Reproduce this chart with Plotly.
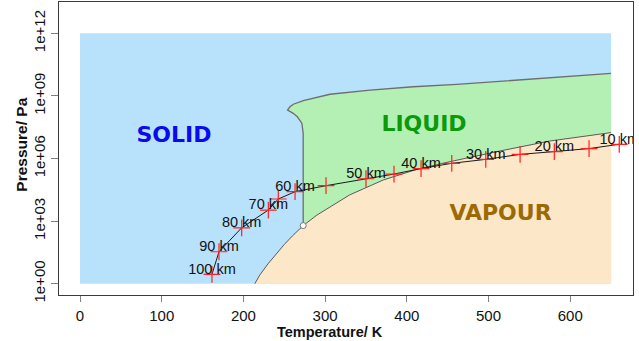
import plotly.graph_objects as go

# ---------------- data ----------------
# Solid region extent
solid_T = [0, 650, 650, 0, 0]
solid_P = [1, 1, 1e12, 1e12, 1]

# Sublimation curve (solid / vapour)
sub_T = [214, 220, 230, 240, 250, 260, 273.16]
sub_P = [1.0, 2.6, 8.9, 27, 76, 196, 611]

# Vaporisation curve (liquid / vapour)
vap_T = [273.16, 290, 330, 371, 412, 453, 514, 575, 650]
vap_P = [611, 1.95e3, 1.8e4, 9.3e4, 3.0e5, 7.1e5, 2.3e6, 6.9e6, 1.75e7]

# Melting curve (solid / liquid), incl. the high-pressure branch
melt_T = [273.16, 273.16, 271.5, 266, 260.5, 254, 257, 261.1, 273.3, 306, 355, 408, 461, 540.6, 650]
melt_P = [611, 1.6e7, 4.9e7, 1.0e8, 1.5e8, 2.1e8, 3.0e8, 4.0e8, 5.9e8, 1.2e9, 1.9e9,
          2.75e9, 3.55e9, 5.75e9, 1.2e10]

# Triple point
triple_T = [273.16]
triple_P = [611]

# Atmospheric profile (altitude, temperature, pressure)
prof_km = [100, 90, 80, 70, 65, 60, 55, 50, 45, 40, 35, 30, 25, 20, 15, 10]
prof_T = [161.5, 170.1, 197.9, 230.5, 242.7, 263.2, 301.1, 350, 384.3, 417.4, 455,
          496.6, 538.6, 580.5, 623, 660]
prof_P = [2.8, 34, 480, 3400, 11500, 25700, 50000, 1.07e5, 1.8e5, 3.3e5, 5.9e5,
          9.1e5, 1.58e6, 2.15e6, 3.0e6, 4.8e6]

label_km = [100, 90, 80, 70, 60, 50, 40, 30, 20, 10]
label_text = ["100 km", "90 km", "80 km", "70 km", "60 km", "50 km", "40 km",
              "30 km", "20 km", "10 km"]

# Phase names
phase_text = ["SOLID", "LIQUID", "VAPOUR"]
phase_T = [115, 421, 514.7]
phase_P = [1.1e7, 4.0e7, 2.15e3]
phase_color = ["#0a0af0", "#0a9a0a", "#9b6a05"]

# axis ticks
x_ticks = [0, 100, 200, 300, 400, 500, 600]
y_ticks = [1, 1e3, 1e6, 1e9, 1e12]
y_ticktext = ["1e+00", "1e+03", "1e+06", "1e+09", "1e+12"]

# ---------------- styling ----------------
C_SOLID = "#b8e2fb"
C_LIQUID = "#b4efb4"
C_VAPOUR = "#fde7c9"
C_EDGE = "#5a5a5a"
FONT = "Liberation Sans, Arial, sans-serif"
LABEL_LIFT = 10 ** 0.2

fig = go.Figure()

fig.add_trace(go.Scatter(x=solid_T, y=solid_P, mode="lines", fill="toself",
                         fillcolor=C_SOLID, line=dict(width=0), hoverinfo="skip"))

# liquid polygon: melting curve then back along vaporisation curve
liq_T = melt_T + [650] + vap_T[::-1]
liq_P = melt_P + [vap_P[-1]] + vap_P[::-1]
fig.add_trace(go.Scatter(x=liq_T, y=liq_P, mode="lines", fill="toself",
                         fillcolor=C_LIQUID, line=dict(width=0), hoverinfo="skip"))

# vapour polygon
vapour_T = sub_T + vap_T[1:] + [650, sub_T[0]]
vapour_P = sub_P + vap_P[1:] + [1, 1]
fig.add_trace(go.Scatter(x=vapour_T, y=vapour_P, mode="lines", fill="toself",
                         fillcolor=C_VAPOUR, line=dict(width=0), hoverinfo="skip"))

# phase boundaries
for xs, ys, w, c in [(sub_T, sub_P, 1.0, C_EDGE), (vap_T, vap_P, 1.0, C_EDGE),
                     (melt_T, melt_P, 1.3, "#6e6e6e")]:
    fig.add_trace(go.Scatter(x=xs, y=ys, mode="lines", line=dict(color=c, width=w),
                             hoverinfo="skip"))

fig.add_trace(go.Scatter(x=triple_T, y=triple_P, mode="markers",
                         marker=dict(symbol="circle", size=6, color="white",
                                     line=dict(color="#777777", width=1)),
                         hoverinfo="skip"))

# profile
fig.add_trace(go.Scatter(x=prof_T, y=prof_P, mode="lines+markers",
                         line=dict(color="#1a1a1a", width=1),
                         marker=dict(symbol="cross-thin", size=12, color="#ff2020",
                                     line=dict(color="#ff2020", width=1.2)),
                         hoverinfo="skip"))

lab_T = [prof_T[prof_km.index(k)] for k in label_km]
lab_P = [prof_P[prof_km.index(k)] * LABEL_LIFT for k in label_km]
fig.add_trace(go.Scatter(x=lab_T, y=lab_P, mode="text", text=label_text,
                         textposition="middle center", cliponaxis=True,
                         textfont=dict(family=FONT, size=14.5, color="#111111"),
                         hoverinfo="skip"))

fig.add_trace(go.Scatter(x=phase_T, y=phase_P, mode="text", text=phase_text,
                         textposition="middle center",
                         textfont=dict(family="DejaVu Sans, Verdana, sans-serif", size=22,
                                       color=phase_color, weight="bold"),
                         hoverinfo="skip"))

axis_common = dict(showline=True, linecolor="#3a3a3a", linewidth=1.3, mirror=True,
                   showgrid=False, zeroline=False, ticks="outside", automargin=False,
                   tickcolor="#808080", tickwidth=1.3,
                   tickfont=dict(family=FONT, size=15, color="#111111"))

fig.update_layout(
    width=639, height=341,
    margin=dict(l=59, r=6, t=2, b=46),
    paper_bgcolor="white", plot_bgcolor="white",
    showlegend=False,
    xaxis=dict(range=[-25.7, 676.8], tickvals=x_ticks, ticklen=6, ticklabelstandoff=1,
               **axis_common),
    yaxis=dict(type="log", range=[-0.54, 13.5], tickvals=y_ticks, ticktext=y_ticktext,
               tickangle=-90, ticklen=7, ticklabelstandoff=0, **axis_common),
    annotations=[
        dict(text="<b>Temperature/ K</b>", xref="paper", yref="paper",
             x=0.472, y=-0.126, showarrow=False, xanchor="center", yanchor="middle",
             font=dict(family=FONT, size=14.5, color="#111111")),
        dict(text="<b>Pressure/ Pa</b>", xref="paper", yref="paper",
             x=-0.065, y=0.512, showarrow=False, xanchor="center", yanchor="middle",
             textangle=-90, font=dict(family=FONT, size=15.5, color="#111111")),
    ],
)

fig.write_html("out.html", config={"displayModeBar": False},
               post_script="document.body.style.margin='0';document.body.style.overflow='hidden';")
